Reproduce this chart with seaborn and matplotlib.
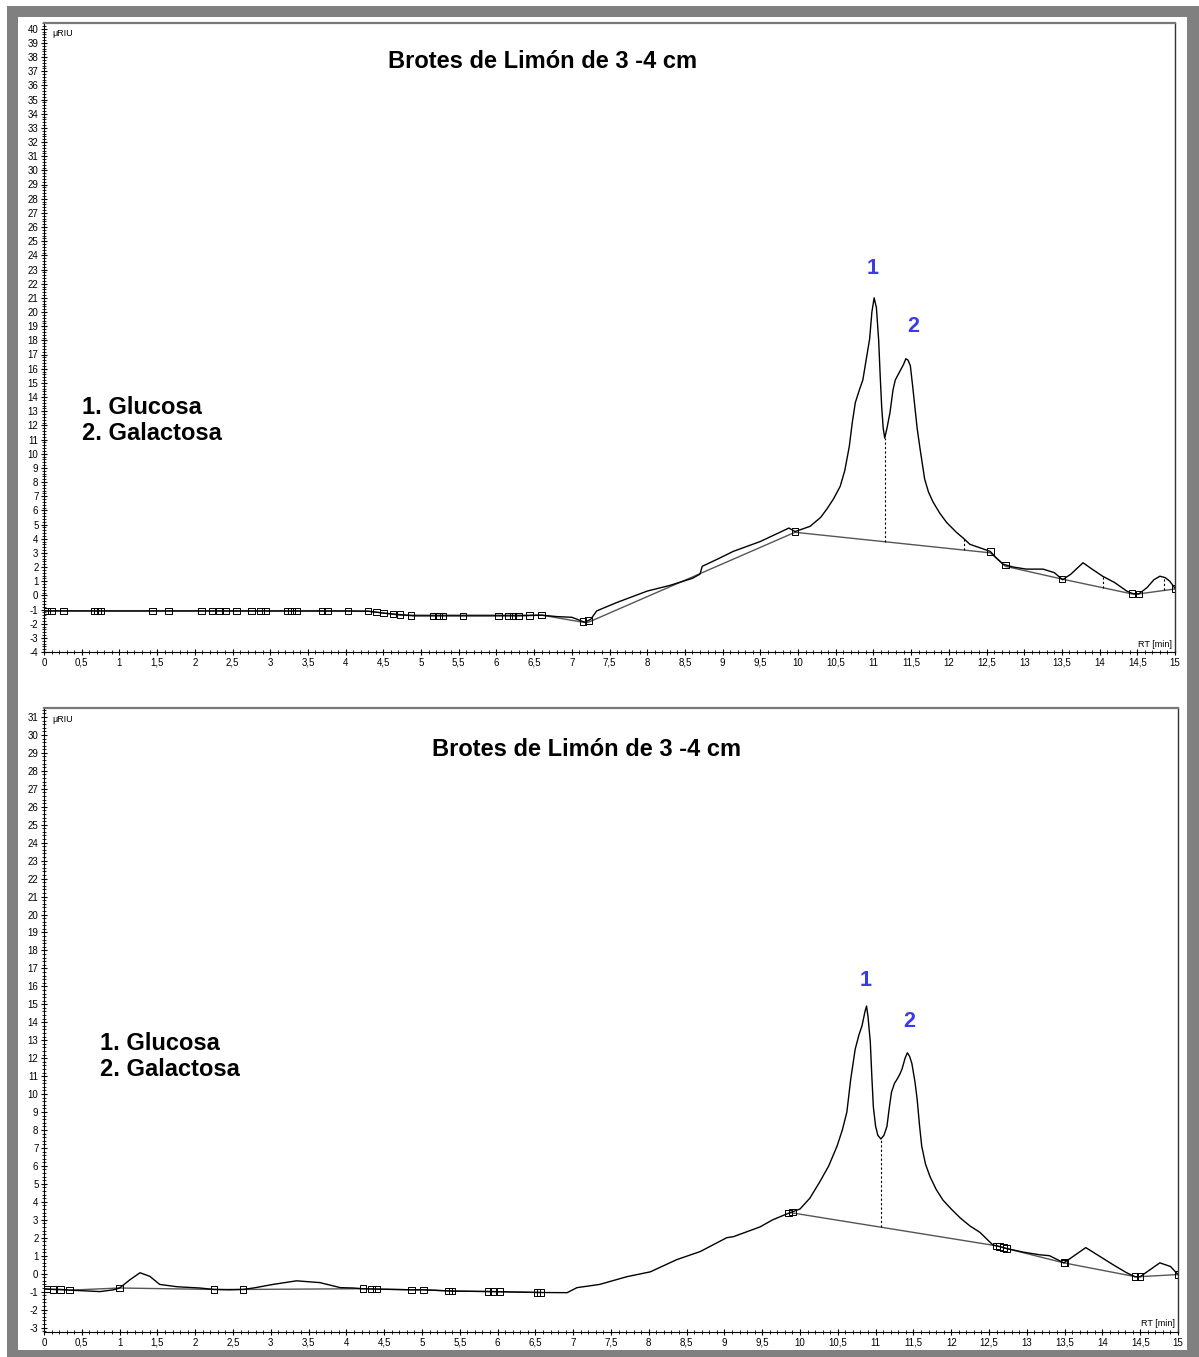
import numpy as np
import pandas as pd
import seaborn as sns
import matplotlib
matplotlib.use("Agg")
import matplotlib.pyplot as plt
from matplotlib.patches import Rectangle
from matplotlib.ticker import MultipleLocator, FuncFormatter

# --- panel 1 (top) chromatogram ---
rt1 = [0, 0.5, 1, 1.5, 2, 2.5, 3, 3.5, 4.0, 4.3, 4.5, 4.7, 4.9, 5.2, 5.6, 6.0, 6.3, 6.6,
       6.8, 7.0, 7.1, 7.17, 7.25, 7.33, 7.6, 8.0, 8.3, 8.6, 8.7, 8.73, 8.95, 9.14, 9.5,
       9.8, 9.88, 9.96, 10.16, 10.3, 10.38, 10.47, 10.56, 10.62, 10.68, 10.72, 10.76, 10.82,
       10.86, 10.9, 10.95, 10.98, 11.01, 11.04, 11.07, 11.09, 11.11, 11.13, 11.15, 11.18,
       11.22, 11.26, 11.29, 11.35, 11.4, 11.43, 11.46, 11.49, 11.52, 11.55, 11.58, 11.62,
       11.68, 11.73, 11.79, 11.88, 11.97, 12.1, 12.2, 12.28, 12.55, 12.62, 12.72, 12.85,
       13.03, 13.25, 13.4, 13.51, 13.62, 13.78, 13.9, 14.04, 14.2, 14.36, 14.45, 14.52,
       14.63, 14.72, 14.8, 14.87, 14.93, 15.0]
sig1 = [-1.1, -1.1, -1.1, -1.1, -1.1, -1.1, -1.1, -1.1, -1.1, -1.12, -1.25, -1.35, -1.45,
        -1.45, -1.45, -1.45, -1.45, -1.4, -1.5, -1.55, -1.75, -1.9, -1.7, -1.1, -0.5, 0.3,
        0.7, 1.2, 1.5, 2.05, 2.6, 3.1, 3.8, 4.55, 4.75, 4.5, 4.87, 5.5, 6.07, 6.8, 7.7, 8.8,
        10.5, 12.2, 13.6, 14.6, 15.2, 16.5, 18.1, 20.0, 21.0, 20.3, 18.0, 15.5, 13.3, 11.8,
        11.1, 11.8, 12.9, 14.5, 15.2, 15.8, 16.3, 16.7, 16.6, 16.2, 14.8, 13.3, 11.8, 10.3,
        8.2, 7.3, 6.6, 5.8, 5.15, 4.45, 4.0, 3.6, 3.1, 2.7, 2.2, 2.0, 1.85, 1.85, 1.6, 1.1,
        1.5, 2.3, 1.85, 1.35, 0.9, 0.3, 0.1, 0.1, 0.55, 1.1, 1.35, 1.25, 1.0, 0.5]
base1_rt = [0, 4.3, 4.72, 6.6, 7.15, 7.22, 9.96, 12.55, 12.75, 13.5, 14.43, 14.52, 15.0]
base1_sig = [-1.1, -1.12, -1.4, -1.4, -1.9, -1.9, 4.45, 3.0, 2.05, 1.15, 0.1, 0.1, 0.45]
marks1 = [0.03, 0.1, 0.26, 0.67, 0.71, 0.75, 1.44, 1.65, 2.09, 2.23, 2.33, 2.41, 2.55,
          2.75, 2.87, 2.94, 3.23, 3.28, 3.35, 3.69, 3.76, 4.03, 4.3, 4.41, 4.5, 4.63, 4.72,
          4.87, 5.16, 5.23, 5.29, 5.56, 6.03, 6.16, 6.22, 6.29, 6.44, 6.6, 7.15, 7.22, 9.96,
          12.55, 12.75, 13.5, 14.43, 14.52, 15.0]
drops1 = [11.15, 12.2, 14.04, 14.86]

# --- panel 2 (bottom) chromatogram ---
rt2 = [0, 0.12, 0.22, 0.34, 0.5, 0.74, 0.92, 1.0, 1.14, 1.27, 1.4, 1.53, 1.76, 2.06, 2.25,
       2.45, 2.63, 2.77, 3.03, 3.34, 3.65, 3.92, 4.09, 4.22, 4.4, 4.86, 5.02, 5.4, 5.94,
       6.55, 6.92, 7.05, 7.35, 7.71, 8.02, 8.37, 8.68, 9.03, 9.12, 9.47, 9.64, 9.87, 10.0,
       10.13, 10.26, 10.38, 10.49, 10.56, 10.62, 10.67, 10.73, 10.78, 10.82, 10.86, 10.88,
       10.9, 10.93, 10.95, 10.97, 11.0, 11.03, 11.07, 11.11, 11.15, 11.18, 11.21, 11.25,
       11.28, 11.32, 11.35, 11.39, 11.42, 11.45, 11.48, 11.52, 11.55, 11.58, 11.61, 11.66,
       11.72, 11.8, 11.89, 12.0, 12.12, 12.25, 12.38, 12.55, 12.65, 12.73, 12.95, 13.17,
       13.3, 13.49, 13.61, 13.78, 13.97, 14.14, 14.32, 14.43, 14.5, 14.59, 14.76, 14.9, 15.0]
sig2 = [-0.85, -0.88, -0.88, -0.92, -0.95, -1.0, -0.9, -0.8, -0.33, 0.05, -0.15, -0.6,
        -0.73, -0.8, -0.88, -0.9, -0.88, -0.8, -0.6, -0.4, -0.5, -0.78, -0.8, -0.84, -0.86,
        -0.9, -0.9, -0.97, -1.0, -1.05, -1.06, -0.78, -0.6, -0.17, 0.1, 0.78, 1.23, 2.0,
        2.06, 2.6, 3.0, 3.4, 3.6, 4.2, 5.1, 6.0, 7.1, 8.0, 9.0, 10.8, 12.5, 13.3, 13.8, 14.6,
        14.9, 14.3, 12.9, 11.0, 9.3, 8.2, 7.7, 7.5, 7.7, 8.2, 9.2, 10.1, 10.6, 10.8, 11.1,
        11.4, 12.0, 12.3, 12.1, 11.7, 10.7, 9.7, 8.3, 7.1, 6.1, 5.4, 4.7, 4.1, 3.6, 3.1,
        2.65, 2.3, 1.6, 1.5, 1.4, 1.2, 1.05, 1.0, 0.6, 0.95, 1.45, 0.95, 0.5, 0.05, -0.17,
        -0.17, 0.1, 0.6, 0.4, -0.05]
base2_rt = [0, 0.34, 1.0, 2.25, 2.63, 4.22, 4.4, 4.86, 5.02, 5.4, 5.94, 6.57]
base2_sig = [-0.85, -0.92, -0.8, -0.88, -0.88, -0.84, -0.86, -0.9, -0.9, -0.97, -1.0, -1.05]
base2b_rt = [9.87, 12.6, 12.73, 13.49, 14.45, 15.0]
base2b_sig = [3.4, 1.55, 1.4, 0.6, -0.18, -0.05]
marks2 = [0.04, 0.12, 0.22, 0.34, 1.0, 2.25, 2.63, 4.22, 4.33, 4.4, 4.86, 5.02, 5.35, 5.4,
          5.87, 5.94, 6.03, 6.52, 6.57, 9.85, 9.9, 12.6, 12.64, 12.69, 12.73, 13.49, 13.5,
          14.43, 14.5, 15.0]
drops2 = [11.07]

title = "Brotes de Limón de 3 -4 cm"
legend_lines = ["1. Glucosa", "2. Galactosa"]
peak_labels1 = [("1", 10.99, 23.1), ("2", 11.53, 19.0)]
peak_labels2 = [("1", 10.87, 16.3), ("2", 11.44, 14.05)]

sns.set_style("white")
plt.rcParams['font.family'] = ['Liberation Sans', 'DejaVu Sans']
plt.rcParams['text.color'] = 'black'

W, H = 1199, 1357
fig = plt.figure(figsize=(W / 100, H / 100), dpi=100)


def fx(px):
    return px / W


def fy(py):
    return 1 - py / H


# gray outer frame
gray = '#808080'
for (x0, y0, x1, y1) in [(7, 6, 18, 1357), (7, 6, 1199, 17), (1187, 6, 1199, 1357), (7, 1350, 1199, 1357)]:
    fig.add_artist(Rectangle((fx(x0), fy(y1)), (x1 - x0) / W, (y1 - y0) / H,
                             transform=fig.transFigure, color=gray, lw=0, zorder=0))

comma = FuncFormatter(lambda v, p: f"{v:g}".replace('.', ','))


def draw_panel(ax, rt, sig, bases, marks, drops, ylim, peaks):
    df = pd.DataFrame({"rt": rt, "sig": sig})
    for brt, bsig in bases:
        sns.lineplot(x=brt, y=bsig, ax=ax, color='#555555', lw=1.0, sort=False, estimator=None)
    sns.lineplot(data=df, x="rt", y="sig", ax=ax, color='black', lw=1.0, sort=False, estimator=None)
    # drop lines between trace and baseline
    allb_rt = np.concatenate([b[0] for b in bases])
    allb_sig = np.concatenate([b[1] for b in bases])
    order = np.argsort(allb_rt)
    for d in drops:
        top = np.interp(d, rt, sig)
        bot = np.interp(d, allb_rt[order], allb_sig[order])
        ax.plot([d, d], [bot, top], color='black', lw=0.8, ls=(0, (2, 2)))
    my = np.interp(marks, rt, sig)
    sc = sns.scatterplot(x=marks, y=my, ax=ax, marker='s', s=22, zorder=5)
    coll = sc.collections[-1]
    coll.set_facecolor('none')
    coll.set_edgecolor('black')
    coll.set_linewidth(0.7)
    for lab, px, py in peaks:
        ax.text(px, py, lab, color='#3a3ae6', fontsize=15.5, fontweight='bold',
                ha='center', va='center')

    ax.set_xlim(0, 15)
    ax.set_ylim(*ylim)
    ax.set_xlabel('')
    ax.set_ylabel('')
    ax.xaxis.set_major_locator(MultipleLocator(0.5))
    ax.xaxis.set_minor_locator(MultipleLocator(0.1))
    ax.yaxis.set_major_locator(MultipleLocator(1))
    ax.yaxis.set_minor_locator(MultipleLocator(0.2))
    ax.xaxis.set_major_formatter(comma)
    ax.yaxis.set_major_formatter(comma)
    ax.tick_params(which='major', direction='inout', length=5, width=0.8,
                   labelsize=7, pad=1.5, colors='black')
    ax.tick_params(which='minor', direction='inout', length=2.5, width=0.6, colors='black')
    ax.tick_params(axis='x', which='both', top=False, bottom=True)
    ax.tick_params(axis='y', which='both', left=True, right=False)
    for s in ['left', 'bottom']:
        ax.spines[s].set_color('black')
        ax.spines[s].set_linewidth(0.8)
    ax.spines['top'].set_color('#777777')
    ax.spines['top'].set_linewidth(1.6)
    ax.spines['right'].set_color('#333333')
    ax.spines['right'].set_linewidth(1.0)
    ax.set_facecolor('white')


ax1 = fig.add_axes([fx(44), fy(652), fx(1175) - fx(44), fy(23) - fy(652)])
ax2 = fig.add_axes([fx(44), fy(1332), fx(1178) - fx(44), fy(708) - fy(1332)])

draw_panel(ax1, rt1, sig1, [(base1_rt, base1_sig)], marks1, drops1, (-4, 40.4), peak_labels1)
draw_panel(ax2, rt2, sig2, [(base2_rt, base2_sig), (base2b_rt, base2b_sig)], marks2, drops2,
           (-3.25, 31.5), peak_labels2)

# titles, legends, axis captions
fig.text(fx(543), fy(62), title, ha='center', va='center', fontsize=17, fontweight='bold')
fig.text(fx(587), fy(750), title, ha='center', va='center', fontsize=17, fontweight='bold')
for i, line in enumerate(legend_lines):
    fig.text(fx(82), fy(407 + 26 * i), line, ha='left', va='center', fontsize=17, fontweight='bold')
    fig.text(fx(100), fy(1044 + 26 * i), line, ha='left', va='center', fontsize=17, fontweight='bold')

fig.text(fx(52), fy(33), 'μRIU', ha='left', va='center', fontsize=6.5)
fig.text(fx(52), fy(720), 'μRIU', ha='left', va='center', fontsize=6.5)
fig.text(fx(1172), fy(644), 'RT [min]', ha='right', va='center', fontsize=6.5)
fig.text(fx(1175), fy(1324), 'RT [min]', ha='right', va='center', fontsize=6.5)

fig.savefig("out.png", dpi=100, facecolor='white')
